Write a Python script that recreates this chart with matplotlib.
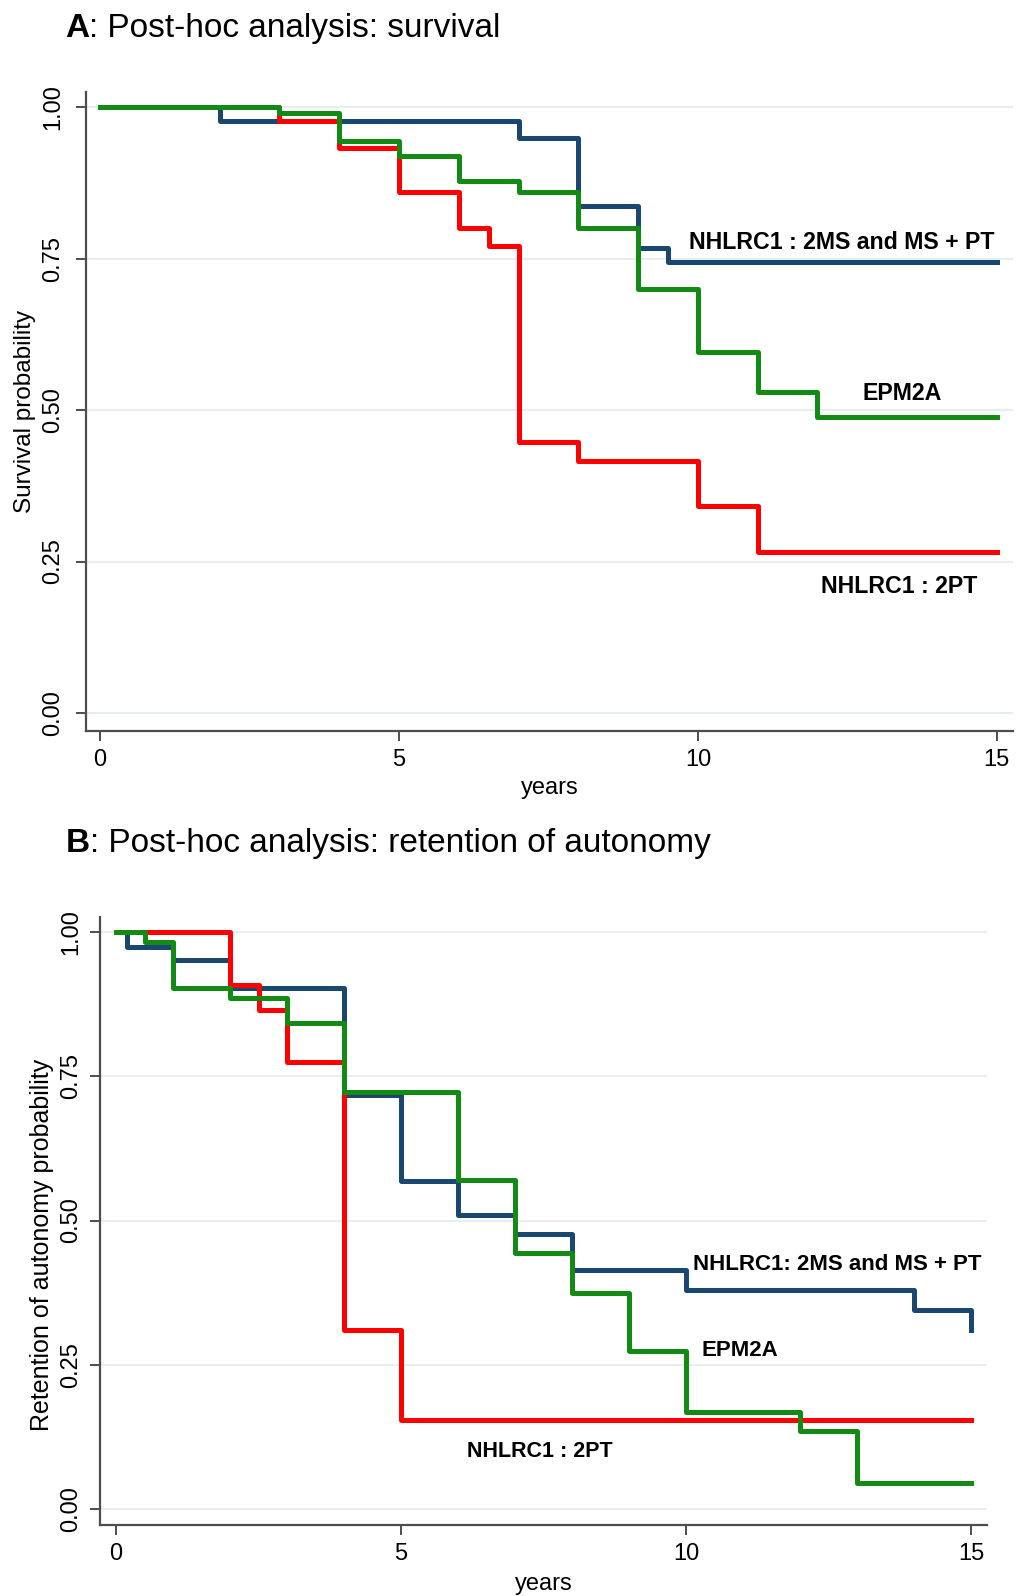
import matplotlib
matplotlib.use("Agg")
import matplotlib.pyplot as plt

plt.rcParams['font.family'] = ['Liberation Sans', 'DejaVu Sans']

# ---------------- data ----------------
# Panel A: survival
a_blue_t = [0, 2, 7, 8, 9, 9.5, 15]
a_blue_s = [1.0, 0.977, 0.949, 0.837, 0.767, 0.745, 0.745]
a_green_t = [0, 3, 4, 5, 6, 7, 8, 9, 10, 11, 12, 15]
a_green_s = [1.0, 0.99, 0.944, 0.92, 0.878, 0.86, 0.80, 0.70, 0.595, 0.53, 0.488, 0.488]
a_red_t = [0, 3, 4, 5, 6, 6.5, 7, 8, 10, 11, 15]
a_red_s = [1.0, 0.977, 0.933, 0.859, 0.80, 0.77, 0.447, 0.416, 0.342, 0.266, 0.266]

# Panel B: retention of autonomy
b_blue_t = [0, 0.2, 1, 2, 4, 5, 6, 7, 8, 10, 14, 15]
b_blue_s = [1.0, 0.974, 0.951, 0.903, 0.717, 0.568, 0.509, 0.477, 0.415, 0.380, 0.345, 0.31]
b_green_t = [0, 0.5, 1, 2, 3, 4, 6, 7, 8, 9, 10, 12, 13, 15]
b_green_s = [1.0, 0.983, 0.903, 0.885, 0.842, 0.722, 0.571, 0.443, 0.375, 0.273, 0.168, 0.135, 0.045, 0.045]
b_red_t = [0, 2, 2.5, 3, 4, 5, 15]
b_red_s = [1.0, 0.908, 0.865, 0.774, 0.31, 0.155, 0.155]

x_ticks = [0, 5, 10, 15]
y_ticks = [0.0, 0.25, 0.5, 0.75, 1.0]
y_ticklabels = ["0.00", "0.25", "0.50", "0.75", "1.00"]

label_blue = "NHLRC1 : 2MS and MS + PT"
label_blue_b = "NHLRC1: 2MS and MS + PT"
label_green = "EPM2A"
label_red = "NHLRC1 : 2PT"

BLUE = "#1a476f"
GREEN = "#138a13"
RED = "#ff0000"
SPINE = "#4d4d4d"
GRID = "#e6eef1"

W, H = 1017, 1596
fig = plt.figure(figsize=(W / 100, H / 100), dpi=100)


def px_axes(left, right, top, bottom):
    return fig.add_axes([left / W, 1 - bottom / H, (right - left) / W, (bottom - top) / H])


def style(ax, xlim, ylim, ylabel, fs, ypad, xlabelpad, ylabel_fs, ylabel_y):
    ax.set_xlim(*xlim)
    ax.set_ylim(*ylim)
    for s in ("top", "right"):
        ax.spines[s].set_visible(False)
    for s in ("left", "bottom"):
        ax.spines[s].set_color(SPINE)
        ax.spines[s].set_linewidth(1.6)
    ax.set_xticks(x_ticks)
    ax.set_yticks(y_ticks)
    ax.set_yticklabels(y_ticklabels)
    ax.tick_params(axis="both", length=7, width=1.4, color=SPINE, labelsize=fs, pad=6)
    ax.tick_params(axis="y", labelrotation=90, pad=ypad)
    for lab in ax.get_yticklabels():
        lab.set_va("center")
    ax.grid(axis="y", color=GRID, linewidth=1.5)
    ax.set_axisbelow(True)
    ax.set_xlabel("years", fontsize=fs, labelpad=xlabelpad)
    ax.set_ylabel(ylabel, fontsize=ylabel_fs, labelpad=4)
    ax.yaxis.label.set_y(ylabel_y)


LW = 3.6

# ---------------- Panel A ----------------
axA = px_axes(86, 1013, 92, 731)
axA.step(a_blue_t, a_blue_s, where="post", color=BLUE, lw=LW)
axA.step(a_red_t, a_red_s, where="post", color=RED, lw=LW)
axA.step(a_green_t, a_green_s, where="post", color=GREEN, lw=LW)
style(axA, (-0.234, 15.27), (-0.0297, 1.0248), "Survival probability", 17, 9, 4, 17.5, 0.5)
axA.text(9.85, 0.776, label_blue, fontsize=16.7, fontweight="bold", ha="left", va="center")
axA.text(13.41, 0.528, label_green, fontsize=16.7, fontweight="bold", ha="center", va="center")
axA.text(13.36, 0.208, label_red, fontsize=16.7, fontweight="bold", ha="center", va="center")

# ---------------- Panel B ----------------
axB = px_axes(100, 987, 917, 1525)
axB.step(b_blue_t, b_blue_s, where="post", color=BLUE, lw=LW)
axB.step(b_red_t, b_red_s, where="post", color=RED, lw=LW)
axB.step(b_green_t, b_green_s, where="post", color=GREEN, lw=LW)
style(axB, (-0.281, 15.28), (-0.0277, 1.026), "Retention of autonomy probability", 17, 6, 6, 18, 0.46)
axB.text(10.12, 0.423, label_blue_b, fontsize=16, fontweight="bold", ha="left", va="center")
axB.text(10.94, 0.275, label_green, fontsize=16, fontweight="bold", ha="center", va="center")
axB.text(7.44, 0.099, label_red, fontsize=15.5, fontweight="bold", ha="center", va="center")

# ---------------- Titles ----------------
def title(x_px, base_px, letter, rest):
    t = fig.text(x_px / W, 1 - base_px / H, letter, fontsize=24, fontweight="bold",
                 ha="left", va="baseline")
    axA.annotate(rest, xy=(1, 0), xycoords=t, fontsize=24, ha="left", va="bottom",
                 annotation_clip=False)


title(65, 37, "A", ": Post-hoc analysis: survival")
title(66, 852, "B", ": Post-hoc analysis: retention of autonomy")

fig.savefig("out.png", dpi=100, facecolor="white")
